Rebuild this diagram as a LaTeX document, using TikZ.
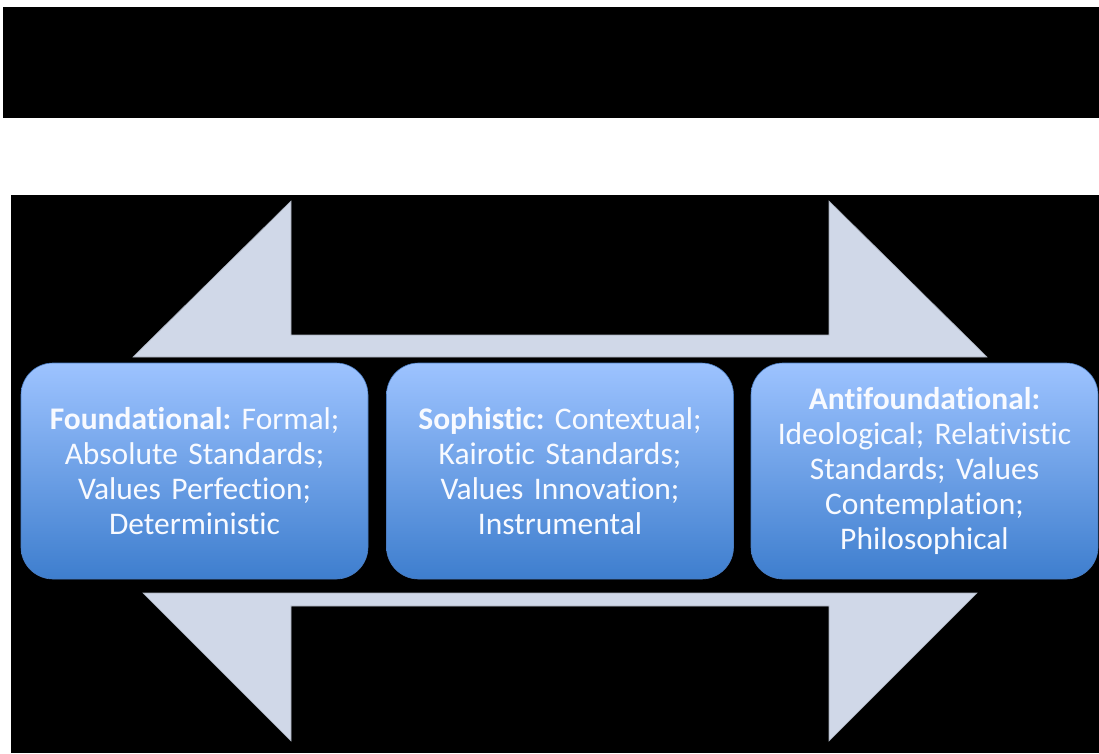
\documentclass[tikz,border=0pt]{standalone}
\usepackage{fontspec}
\setmainfont{Carlito}[Ligatures={NoCommon}]
\definecolor{arrowfill}{HTML}{D0D8E8}
\definecolor{boxtop}{HTML}{9DC3FF}
\definecolor{boxbot}{HTML}{3E7ECE}
\definecolor{boxedge}{HTML}{4A7CC0}
\definecolor{boxtext}{HTML}{F8FAFF}
\tikzset{
  blackpanel/.style={fill=black, draw=none},
  arrowshape/.style={fill=arrowfill, draw=arrowfill!80!black, line width=0.6pt},
  stagebox/.style={rectangle, rounded corners=32pt, minimum width=347pt, minimum height=216pt,
    top color=boxtop, bottom color=boxbot, draw=boxedge, line width=0.6pt,
    text=boxtext, text width=335pt, align=center, inner sep=0pt,
    font=\fontsize{31.5}{35}\selectfont\frenchspacing}
}
\begin{document}
\begin{tikzpicture}[x=1pt,y=-1pt]
\useasboundingbox (0,0) rectangle (1099,753);
\fill[white] (0,0) rectangle (1099,753);
% panels
\path[blackpanel] (3,7) rectangle (1099,118);
\path[blackpanel] (11,195) rectangle (1099,753);
% top double arrow (upper half)
\path[arrowshape] (133,357) -- (291,201) -- (291,335) -- (829,335) -- (829,201) -- (987,357) -- cycle;
% bottom double arrow (lower half)
\path[arrowshape] (143,593) -- (977,593) -- (829,741) -- (829,606) -- (291,606) -- (291,741) -- cycle;
% boxes
\node[stagebox] (found) at (194.5,471) {\textbf{Foundational:} Formal;\\Absolute Standards;\\Values Perfection;\\Deterministic};
\node[stagebox] (soph) at (560,471) {\textbf{Sophistic:} Contextual;\\Kairotic Standards;\\Values Innovation;\\Instrumental};
\node[stagebox] (anti) at (924.5,471) {\textbf{Antifoundational:}\\Ideological; Relativistic\\Standards; Values\\Contemplation;\\Philosophical};
\end{tikzpicture}
\end{document}
